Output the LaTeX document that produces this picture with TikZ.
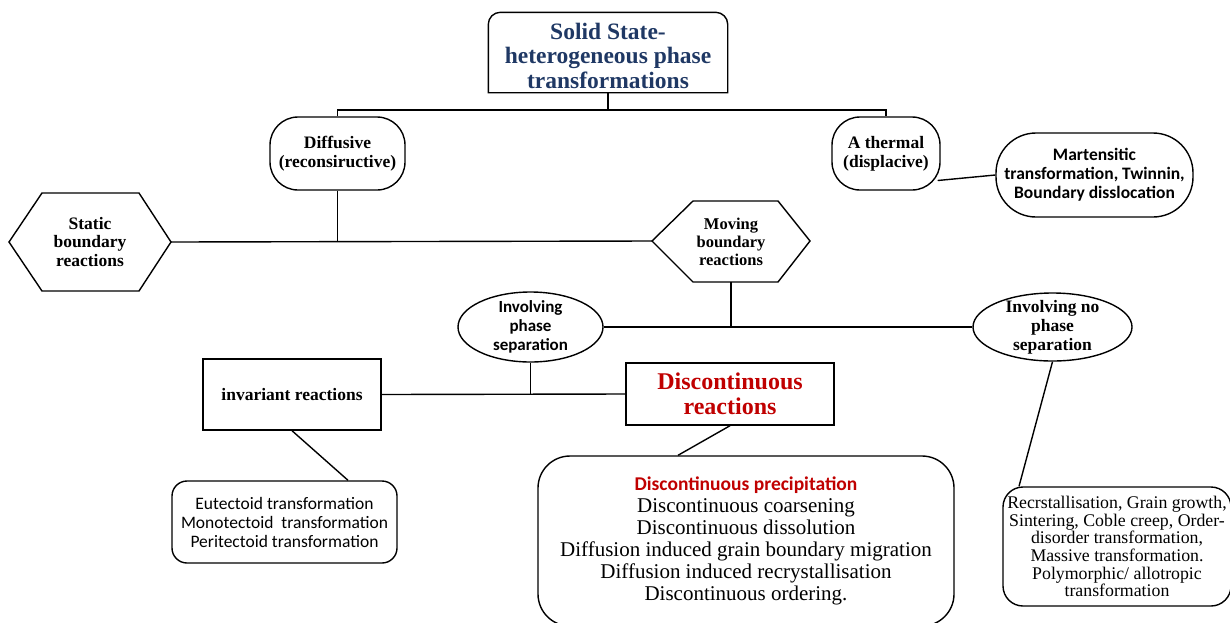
\documentclass[tikz,border=0pt]{standalone}
\usepackage{fontspec}
\setmainfont{Liberation Serif}
\newfontfamily\carlito{Carlito}
\usetikzlibrary{shapes.geometric}
\definecolor{titleblue}{RGB}{31,56,100}
\definecolor{darkred}{RGB}{192,0,0}
\begin{document}
\begin{tikzpicture}[x=1pt,y=-1pt,line width=1.4pt,
  base/.style={align=center,inner sep=0pt},
  rbox/.style={base,draw,rounded corners=#1},
  sbox/.style={base,draw},
  ell/.style={base,draw,ellipse,inner ysep=-10pt},
  serifbold/.style={font=\bfseries\fontsize{17.5}{18.8}\selectfont},
  sansbold/.style={font=\carlito\bfseries\fontsize{17.5}{19}\selectfont},
  conn/.style={line width=1.4pt}]
\useasboundingbox (0,0) rectangle (1230,622);

% title
\node[base,text=titleblue,font=\bfseries\fontsize{23.5}{24.5}\selectfont,
      minimum width=238pt,minimum height=73pt] (title) at (608,55.5)
      {Solid State-\\heterogeneous phase\\transformations};
\draw (title.south west) -- ([yshift=-6pt]title.north west)
  arc[start angle=180,end angle=90,radius=12pt]
  -- ([xshift=-12pt,yshift=6pt]title.north east)
  arc[start angle=90,end angle=0,radius=12pt]
  -- (title.south east) -- cycle;

% level 2
\node[rbox=28pt,serifbold,minimum width=135pt,minimum height=73pt] (diff) at (337.5,153.5)
  {Diffusive\\(reconsiructive)};
\node[rbox=28pt,serifbold,minimum width=108pt,minimum height=73pt] (ath) at (886,153.5)
  {A thermal\\(displacive)};
\node[rbox=40pt,sansbold,minimum width=197pt,minimum height=84pt] (mart) at (1094.5,175)
  {Martensitic\\transformation, Twinnin,\\Boundary disslocation};

% hexagons
\node[base,serifbold] (static) at (90,242) {Static\\boundary\\reactions};
\coordinate (static-w) at (9,242);
\coordinate (static-e) at (171,242);
\draw (static-w) -- (42,193) -- (139,193) -- (static-e) -- (139,291) -- (42,291) -- cycle;

\node[base,font=\bfseries\fontsize{16.5}{18}\selectfont] (moving) at (731,241.5) {Moving\\boundary\\reactions};
\coordinate (moving-w) at (652,241);
\coordinate (moving-e) at (810,241);
\coordinate (moving-s) at (731,282);
\draw (moving-w) -- (693,201) -- (778,201) -- (moving-e) -- (778,282) -- (moving-s) -- (693,282) -- cycle;

% ellipses
\node[ell,font=\carlito\bfseries\fontsize{17}{19}\selectfont,minimum width=145pt,minimum height=70pt] (invp) at (530.5,327)
  {Involving\\phase\\separation};
\node[ell,serifbold,minimum width=159pt,minimum height=68pt] (invno) at (1052.5,327)
  {Involving no\\phase\\separation};

% boxes
\node[sbox,serifbold,minimum width=178pt,minimum height=71pt] (inv) at (292,394.5) {invariant reactions};
\node[sbox,text=darkred,font=\bfseries\fontsize{24}{24.5}\selectfont,minimum width=208pt,minimum height=62pt] (disc) at (730,394)
  {Discontinuous\\reactions};

\node[rbox=15pt,font=\carlito\fontsize{17.5}{19}\selectfont,minimum width=225pt,minimum height=82pt] (eut) at (284.5,522)
  {Eutectoid transformation\\Monotectoid\ \ transformation\\Peritectoid transformation};

\node[rbox=32pt,font=\fontsize{21}{22}\selectfont,minimum width=416pt,minimum height=170pt] (big) at (746,541)
  {{\carlito\bfseries\color{darkred}\fontsize{19.5}{22}\selectfont Discontinuous precipitation}\\
   Discontinuous coarsening\\
   Discontinuous dissolution\\
   Diffusion induced grain boundary migration\\
   Diffusion induced recrystallisation\\
   Discontinuous ordering.};

\node[rbox=20pt,font=\fontsize{17.8}{17.6}\selectfont,minimum width=228pt,minimum height=119pt] (right) at (1117,546.5)
  {Recrstallisation, Grain growth,\\Sintering, Coble creep, Order-\\disorder transformation,\\Massive transformation.\\Polymorphic/ allotropic\\transformation};

% connectors
\coordinate (j1) at (608,110);
\draw[conn] (title.south) -- (j1);
\draw[conn] (diff.north) |- (j1) -| (ath.north);
\draw[conn] ([xshift=-3pt,yshift=-27pt]ath.east) -- (mart.west);
\draw[conn] (static-e) -- (moving-w);
\draw[conn] (diff.south) -- (diff.south |- static-e);
\draw[conn] (moving-s) -- (moving-s |- invp.east);
\draw[conn] (invp.east) -- (invno.west);
\draw[conn] (invp.south) -- (invp.south |- inv.east);
\draw[conn] (inv.east) -- (disc.west);
\draw[conn] (disc.south) -- ([xshift=-68pt]big.north);
\draw[conn] (inv.south) -- ([xshift=63.5pt]eut.north);
\draw[conn] (invno.south) -- ([xshift=-98pt]right.north);
\end{tikzpicture}
\end{document}
